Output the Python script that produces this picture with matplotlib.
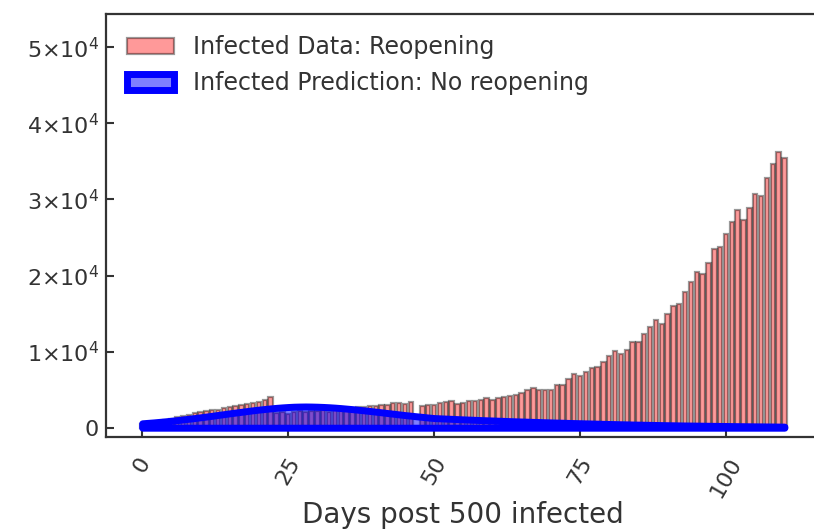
import numpy as np
import matplotlib
matplotlib.use("Agg")
import matplotlib.pyplot as plt

# Daily infected counts (reopening) and model prediction without reopening
days = list(range(0, 111))

infected_data = [
    500, 620, 760, 900, 1050, 1200, 1450, 1580, 1670, 1890,
    2020, 2200, 2290, 2330, 2630, 2760, 2890, 2980, 3080, 3210,
    3420, 3640, 4000, 1900, 2050, 1800, 2100, 2200, 2000, 2250,
    2150, 2300, 2100, 2400, 2500, 2550, 2650, 2760, 2760, 2800,
    2850, 2980, 2980, 3200, 3210, 3080, 3420, 0, 2850, 2950,
    3050, 3200, 3350, 3450, 3114, 3285, 3509, 3509, 3640, 3863,
    3640, 3863, 4074, 4166, 4258, 4520, 4954, 5177, 4954, 4954,
    4954, 5611, 5611, 6360, 7017, 6833, 7280, 7806, 8016, 8700,
    9440, 10118, 9685, 10210, 11222, 11222, 12313, 13193, 14152, 13627,
    14941, 16032, 16255, 17792, 19106, 20420, 20197, 21682, 23482, 23785,
    25453, 26991, 28568, 27293, 28830, 30670, 30486, 32773, 34652, 36189,
    35480,
]

predicted = [
    580, 640, 700, 770, 840, 920, 1000, 1090, 1180, 1270,
    1370, 1470, 1570, 1680, 1780, 1890, 1990, 2090, 2190, 2290,
    2380, 2460, 2540, 2610, 2670, 2720, 2760, 2780, 2790, 2780,
    2760, 2730, 2690, 2640, 2580, 2510, 2440, 2360, 2280, 2200,
    2110, 2020, 1930, 1840, 1750, 1660, 1580, 1500, 1420, 1340,
    1270, 1235, 1200, 1165, 1130, 1095, 1065, 1035, 1005, 975,
    950, 920, 895, 865, 840, 815, 790, 765, 745, 720,
    700, 675, 655, 630, 610, 590, 570, 550, 530, 510,
    490, 475, 455, 440, 420, 405, 390, 375, 360, 345,
    330, 320, 305, 295, 285, 275, 265, 255, 245, 235,
    225, 215, 205, 200, 190, 180, 175, 165, 160, 150,
    145,
]

x_ticks = [0, 25, 50, 75, 100]
y_ticks = [0, 10000, 20000, 30000, 40000, 50000]
y_tick_labels = ["0", r"$1{\times}10^{4}$", r"$2{\times}10^{4}$",
                 r"$3{\times}10^{4}$", r"$4{\times}10^{4}$", r"$5{\times}10^{4}$"]

fig = plt.figure(figsize=(8.14, 5.31), dpi=100)
W, H = 814, 531
left_px, right_px, top_px, bottom_px = 106, 820, 14, 437
ax = fig.add_axes([left_px / W, (H - bottom_px) / H,
                   (right_px - left_px) / W, (bottom_px - top_px) / H])

bars = ax.bar(days, infected_data, width=0.75, color="red", alpha=0.4,
              edgecolor="black", linewidth=1.6,
              label="Infected Data: Reopening", zorder=2)
area = ax.fill_between(days, predicted, facecolor=(0, 0, 1, 0.5),
                       edgecolor="blue", linewidth=5,
                       label="Infected Prediction: No reopening", zorder=3)

ax.set_xlim(-6.2, 116.1)
ax.set_ylim(-1220, 54360)

ax.set_xticks(x_ticks)
ax.set_xticklabels([str(t) for t in x_ticks], rotation=60, ha="center")
ax.set_yticks(y_ticks)
ax.set_yticklabels(y_tick_labels)

ax.tick_params(axis="both", direction="in", length=6, width=1.5,
               color="#333333", labelsize=16, labelcolor="#333333")
ax.tick_params(axis="x", pad=12)
ax.tick_params(axis="y", pad=5)
for side in ("left", "bottom", "top", "right"):
    ax.spines[side].set_color("#333333")
    ax.spines[side].set_linewidth(1.6)

ax.set_xlabel("Days post 500 infected", fontsize=20, color="#333333",
              labelpad=0)

leg = ax.legend([bars, area],
                ["Infected Data: Reopening", "Infected Prediction: No reopening"],
                loc="upper left", frameon=False, fontsize=17)
for t in leg.get_texts():
    t.set_color("#333333")

fig.savefig("out.png", dpi=100)
